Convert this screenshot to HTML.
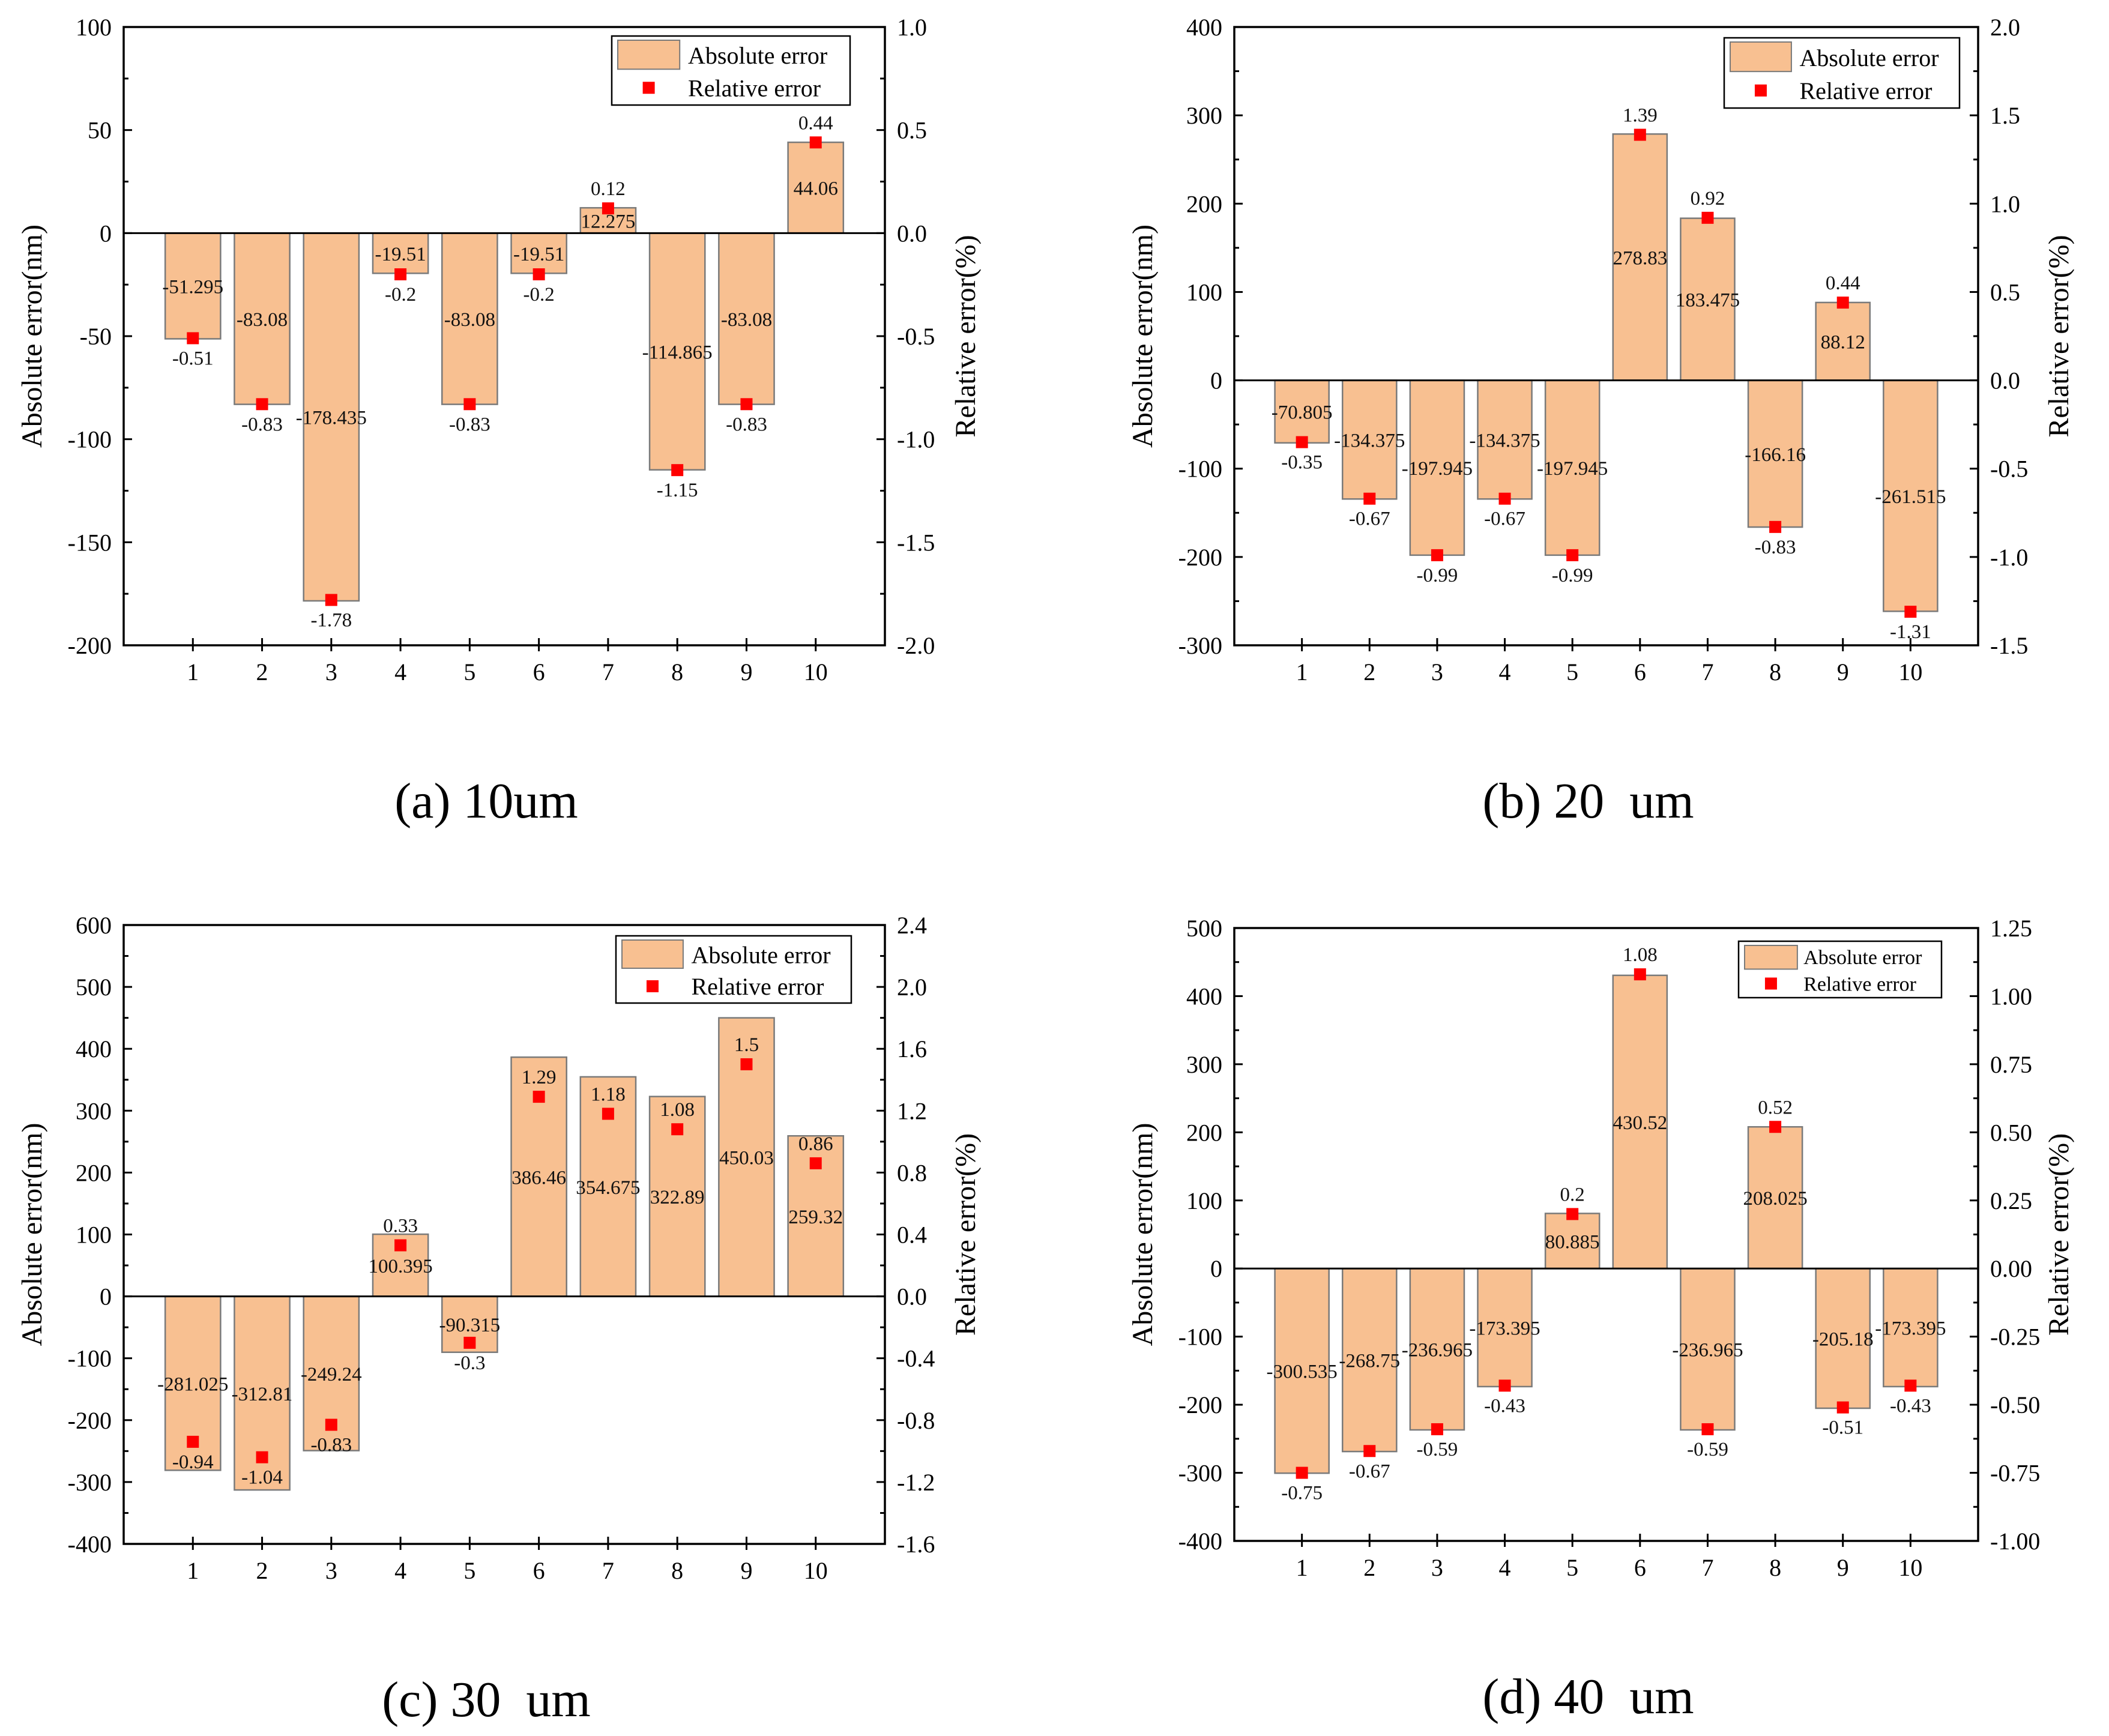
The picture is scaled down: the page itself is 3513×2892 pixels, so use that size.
<!DOCTYPE html>
<html><head><meta charset="utf-8"><style>
html,body{margin:0;padding:0;background:#fff}
svg{display:block;font-family:"Liberation Serif",serif}
</style></head><body>
<svg id="fig" width="3513" height="2892" viewBox="0 0 3513 2892" xmlns="http://www.w3.org/2000/svg"></svg>
<script>
const categories=[1,2,3,4,5,6,7,8,9,10];
const absA=[-51.295,-83.08,-178.435,-19.51,-83.08,-19.51,12.275,-114.865,-83.08,44.06];
const relA=[-0.51,-0.83,-1.78,-0.2,-0.83,-0.2,0.12,-1.15,-0.83,0.44];
const absB=[-70.805,-134.375,-197.945,-134.375,-197.945,278.83,183.475,-166.16,88.12,-261.515];
const relB=[-0.35,-0.67,-0.99,-0.67,-0.99,1.39,0.92,-0.83,0.44,-1.31];
const absC=[-281.025,-312.81,-249.24,100.395,-90.315,386.46,354.675,322.89,450.03,259.32];
const relC=[-0.94,-1.04,-0.83,0.33,-0.3,1.29,1.18,1.08,1.5,0.86];
const absD=[-300.535,-268.75,-236.965,-173.395,80.885,430.52,-236.965,208.025,-205.18,-173.395];
const relD=[-0.75,-0.67,-0.59,-0.43,0.2,1.08,-0.59,0.52,-0.51,-0.43];
const ticksLA=[-200,-150,-100,-50,0,50,100];
const ticksRA=["-2.0","-1.5","-1.0","-0.5","0.0","0.5","1.0"];
const ticksLB=[-300,-200,-100,0,100,200,300,400];
const ticksRB=["-1.5","-1.0","-0.5","0.0","0.5","1.0","1.5","2.0"];
const ticksLC=[-400,-300,-200,-100,0,100,200,300,400,500,600];
const ticksRC=["-1.6","-1.2","-0.8","-0.4","0.0","0.4","0.8","1.2","1.6","2.0","2.4"];
const ticksLD=[-400,-300,-200,-100,0,100,200,300,400,500];
const ticksRD=["-1.00","-0.75","-0.50","-0.25","0.00","0.25","0.50","0.75","1.00","1.25"];

const NS="http://www.w3.org/2000/svg";
const svg=document.getElementById('fig');
function mk(tag,attrs,parent,text){const e=document.createElementNS(NS,tag);for(const k in attrs)e.setAttribute(k,attrs[k]);if(text!==undefined)e.textContent=text;(parent||svg).appendChild(e);return e;}

function panel(id,box,abs,rel,tL,tR,caption,legBox,legFont){
  const g=mk('g',{});
  
  
  const [L,R,T,B]=box;
  const lmin=tL[0],lmax=tL[tL.length-1];
  const rmin=parseFloat(tR[0]),rmax=parseFloat(tR[tR.length-1]);
  const y=v=>B-(v-lmin)/(lmax-lmin)*(B-T);
  const yr=v=>B-(v-rmin)/(rmax-rmin)*(B-T);
  const x=c=>L+c*(R-L)/11;
  const bw=0.8*(R-L)/11;
  abs.forEach((v,i)=>{
    const y0=y(0),y1=y(v);
    const b=mk('rect',{x:x(categories[i])-bw/2,y:Math.min(y0,y1),width:bw,height:Math.abs(y1-y0),fill:'#f8c091',stroke:'#7a7a7a','stroke-width':2.5},g);
    
    
    const t=mk('text',{x:x(categories[i]),y:(y0+y1)/2+12,'text-anchor':'middle','font-size':33,fill:'#111'},g,String(v));
    
    
  });
  mk('line',{x1:L,x2:R,y1:y(0),y2:y(0),stroke:'#000','stroke-width':3},g);
  rel.forEach((v,i)=>{
    const cx=x(categories[i]),cy=yr(v);
    const m=mk('rect',{x:cx-10,y:cy-10,width:20,height:20,fill:'#ff0000'},g);
    
    
    const ty=v>=0?cy-22:cy+44;
    const t=mk('text',{x:cx,y:ty,'text-anchor':'middle','font-size':33,fill:'#111'},g,String(v));
    
    
  });
  const f=mk('rect',{x:L,y:T,width:R-L,height:B-T,fill:'none',stroke:'#000','stroke-width':3.5},g);
  
  
  tL.forEach((v,i)=>{
    const yy=y(v);
    mk('line',{x1:L,x2:L+14,y1:yy,y2:yy,stroke:'#000','stroke-width':3},g);
    const t=mk('text',{x:L-20,y:yy+14,'text-anchor':'end','font-size':40},g,String(v));
    
    
    if(i<tL.length-1){const ym=y((v+tL[i+1])/2);mk('line',{x1:L,x2:L+8,y1:ym,y2:ym,stroke:'#000','stroke-width':3},g);mk('line',{x1:R,x2:R-8,y1:ym,y2:ym,stroke:'#000','stroke-width':3},g);}
  });
  tR.forEach((s,i)=>{
    const yy=yr(parseFloat(s));
    mk('line',{x1:R,x2:R-14,y1:yy,y2:yy,stroke:'#000','stroke-width':3},g);
    const t=mk('text',{x:R+20,y:yy+14,'text-anchor':'start','font-size':40},g,s);
    
    
  });
  categories.forEach(c=>{
    mk('line',{x1:x(c),x2:x(c),y1:B-12,y2:B+10,stroke:'#000','stroke-width':3},g);
    const t=mk('text',{x:x(c),y:B+58,'text-anchor':'middle','font-size':40},g,String(c));
    
    
  });
  const my=(T+B)/2;
  const yl=mk('text',{x:0,y:0,'text-anchor':'middle','font-size':48,transform:`translate(${L-137},${my}) rotate(-90)`},g,'Absolute error(nm)');
  
  
  const yrT=mk('text',{x:0,y:0,'text-anchor':'middle','font-size':48,transform:`translate(${R+150},${my}) rotate(-90)`},g,'Relative error(%)');
  
  
  const [lx,ly,lw,lh]=legBox;
  const lg=mk('g',{},g);
  
  
  mk('rect',{x:lx,y:ly,width:lw,height:lh,fill:'#fff',stroke:'#000','stroke-width':2.5},lg);
  mk('rect',{x:lx+10,y:ly+7,width:lw*0.26,height:lh*0.42,fill:'#f8c091',stroke:'#7a7a7a','stroke-width':2},lg);
  mk('rect',{x:lx+10+lw*0.13-10,y:ly+lh*0.75-10,width:20,height:20,fill:'#ff0000'},lg);
  const e1=mk('text',{x:lx+lw*0.32,y:ly+lh*0.28+legFont*0.35,'font-size':legFont},lg,'Absolute error');
  
  
  const e2=mk('text',{x:lx+lw*0.32,y:ly+lh*0.75+legFont*0.35,'font-size':legFont},lg,'Relative error');
  
  
  const cp=mk('text',{x:(L+R)/2-30,y:B+287,'text-anchor':'middle','font-size':84},g,caption);
  
  
}
panel('a',[206,1474,45,1075],absA,relA,ticksLA,ticksRA,'(a) 10um',[1019,60,397,115],40);
panel('b',[2056,3295,45,1075],absB,relB,ticksLB,ticksRB,'(b) 20\u00a0\u00a0um',[2872,63,392,117],40);
panel('c',[206,1474,1541,2572],absC,relC,ticksLC,ticksRC,'(c) 30\u00a0\u00a0um',[1026,1559,392,112],40);
panel('d',[2056,3295,1546,2567],absD,relD,ticksLD,ticksRD,'(d) 40\u00a0\u00a0um',[2896,1568,338,94],34);
</script>
</body></html>
